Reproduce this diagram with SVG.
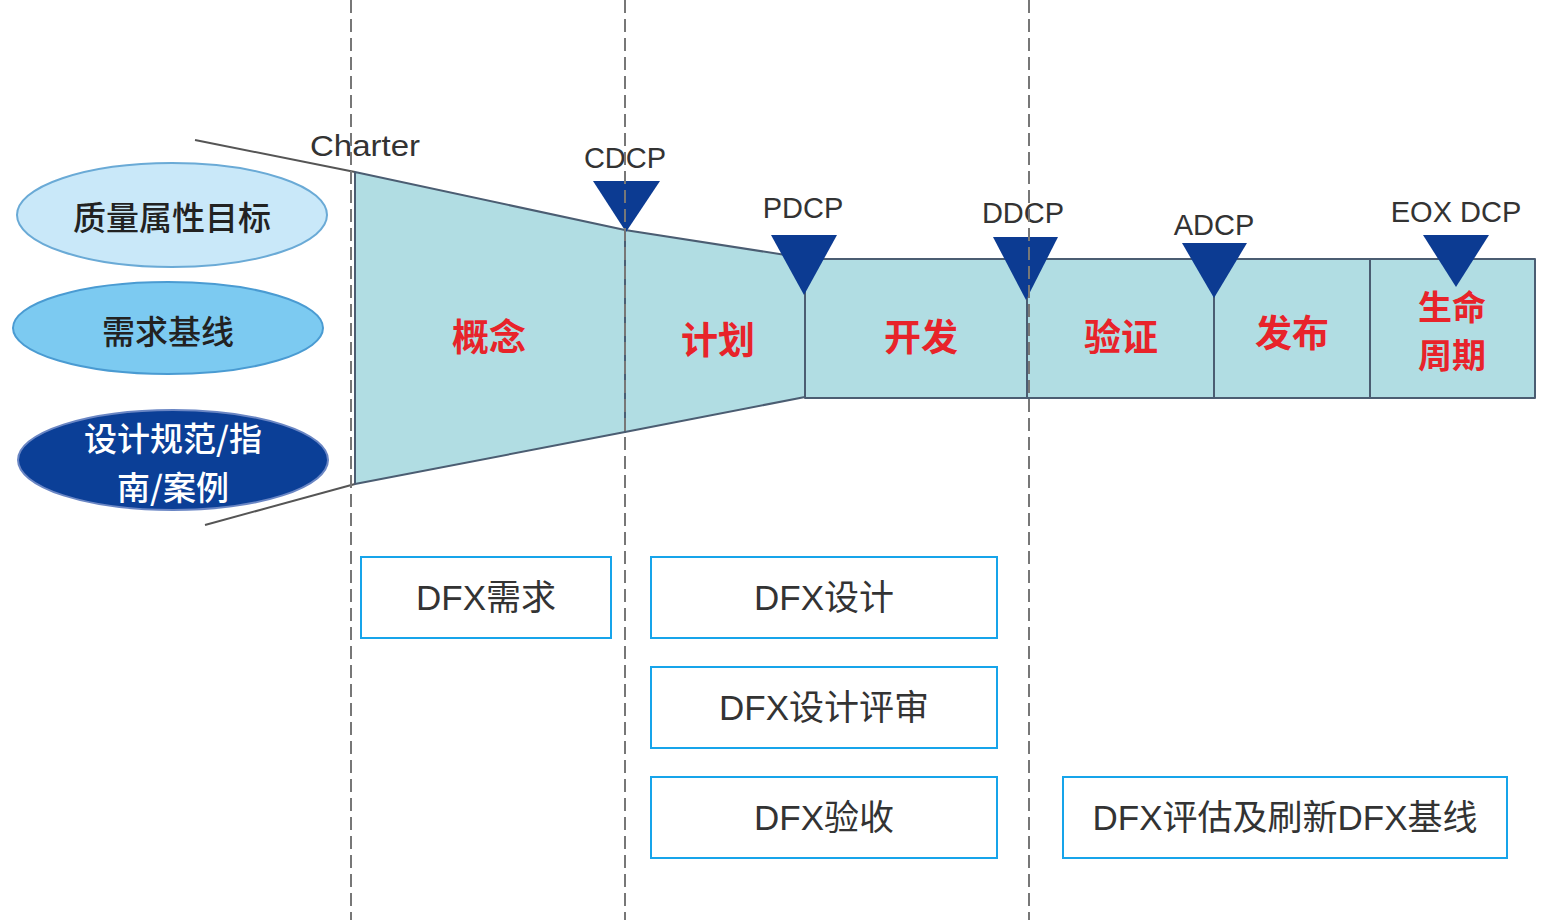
<svg xmlns="http://www.w3.org/2000/svg" width="1552" height="920" viewBox="0 0 1552 920">
<style>
.lbl{font-family:"Liberation Sans","Noto Sans CJK SC",sans-serif;font-size:29px;fill:#333;text-anchor:middle}
.ell{font-family:"Noto Sans CJK SC","Noto Sans",sans-serif;font-size:33px;font-weight:500;fill:#222;text-anchor:middle}
.phase{font-family:"Noto Sans CJK SC",sans-serif;font-size:37px;font-weight:700;fill:#e8232a;text-anchor:middle}
.box{fill:#fff;stroke:#17a4ea;stroke-width:2}
.bt{font-family:"Liberation Sans","Noto Sans CJK SC",sans-serif;font-size:35px;fill:#333;text-anchor:middle}
.seg{fill:#b1dde3;stroke:#4b5d72;stroke-width:2;stroke-linejoin:round}
.tri{fill:#0c3b92}
.dash{stroke:#777;stroke-width:2;stroke-dasharray:13 6;fill:none}
</style>
<rect width="1552" height="920" fill="#fff"/>
<g id="funnel-lines">
<line x1="195" y1="140" x2="355" y2="172" stroke="#555" stroke-width="2"/>
<line x1="205" y1="525" x2="355" y2="484" stroke="#555" stroke-width="2"/>
</g>
<g id="ellipse-quality">
<ellipse cx="172" cy="215" rx="155" ry="52" fill="#c9e8f9" stroke="#6aaad6" stroke-width="2"/>
<text class="ell" x="172" y="230">质量属性目标</text>
</g>
<g id="ellipse-baseline">
<ellipse cx="168" cy="328" rx="155" ry="46" fill="#7ccaf1" stroke="#4a9bd2" stroke-width="2"/>
<text class="ell" x="168" y="344">需求基线</text>
</g>
<g id="ellipse-guides">
<ellipse cx="173" cy="460" rx="155" ry="50" fill="#0b3f97" stroke="#6a86c4" stroke-width="2"/>
<text class="ell" x="173" y="451" style="fill:#fff">设计规范/指</text>
<text class="ell" x="173" y="500" style="fill:#fff">南/案例</text>
</g>
<g id="phase-concept">
<polygon class="seg" points="355,172 625,230 625,432 355,484"/>
<text class="phase" x="489" y="351">概念</text>
</g>
<g id="phase-plan">
<polygon class="seg" points="625,230 805,258 805,397 625,432"/>
<text class="phase" x="718" y="354">计划</text>
</g>
<g id="phase-dev">
<rect class="seg" x="805" y="259" width="222" height="139"/>
<text class="phase" x="921" y="351">开发</text>
</g>
<g id="phase-verify">
<rect class="seg" x="1027" y="259" width="187" height="139"/>
<text class="phase" x="1121" y="351">验证</text>
</g>
<g id="phase-release">
<rect class="seg" x="1214" y="259" width="156" height="139"/>
<text class="phase" x="1292" y="347">发布</text>
</g>
<g id="phase-lifecycle">
<rect class="seg" x="1370" y="259" width="165" height="139"/>
<text class="phase" x="1452" y="320" style="font-size:34px">生命</text>
<text class="phase" x="1452" y="368" style="font-size:34px">周期</text>
</g>
<g id="milestones">
<text class="lbl" x="365" y="156" textLength="110" lengthAdjust="spacingAndGlyphs">Charter</text>
<polygon class="tri" points="593,181 660,181 626,232"/>
<text class="lbl" x="625" y="168">CDCP</text>
<polygon class="tri" points="771,235 837,235 804,295"/>
<text class="lbl" x="803" y="218">PDCP</text>
<polygon class="tri" points="993,237 1058,237 1026,300"/>
<text class="lbl" x="1023" y="223">DDCP</text>
<polygon class="tri" points="1182,243 1247,243 1214,298"/>
<text class="lbl" x="1214" y="235">ADCP</text>
<polygon class="tri" points="1423,235 1489,235 1456,287"/>
<text class="lbl" x="1456" y="222">EOX DCP</text>
</g>
<g id="connectors">
<line class="dash" x1="351" y1="0" x2="351" y2="920"/>
<line class="dash" x1="625" y1="0" x2="625" y2="920"/>
<line class="dash" x1="1029" y1="0" x2="1029" y2="920"/>
</g>
<g id="box-req">
<rect class="box" x="361" y="557" width="250" height="81"/>
<text class="bt" x="486" y="610">DFX需求</text>
</g>
<g id="box-design">
<rect class="box" x="651" y="557" width="346" height="81"/>
<text class="bt" x="824" y="610">DFX设计</text>
</g>
<g id="box-review">
<rect class="box" x="651" y="667" width="346" height="81"/>
<text class="bt" x="824" y="720">DFX设计评审</text>
</g>
<g id="box-accept">
<rect class="box" x="651" y="777" width="346" height="81"/>
<text class="bt" x="824" y="830">DFX验收</text>
</g>
<g id="box-assess">
<rect class="box" x="1063" y="777" width="444" height="81"/>
<text class="bt" x="1285" y="830">DFX评估及刷新DFX基线</text>
</g>
</svg>
